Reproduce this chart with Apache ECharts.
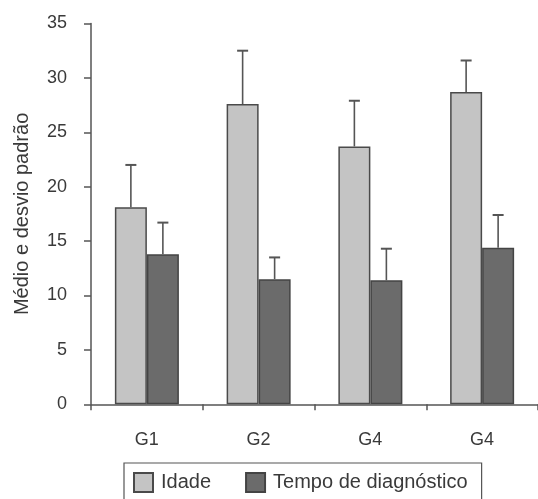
<!DOCTYPE html>
<html>
<head>
<meta charset="utf-8">
<script src="https://cdn.jsdelivr.net/npm/echarts@6/dist/echarts.min.js"></script>
<style>
  html, body { margin: 0; padding: 0; background: #fff; }
  #chart { width: 538px; height: 499px; }
</style>
</head>
<body>
<div id="chart"></div>
<script>
// Group labels on the x axis
const categories = ['G1', 'G2', 'G4', 'G4'];
// Mean age and its standard deviation per group
const idade = [18.1, 27.6, 23.7, 28.7];
const idadeSD = [3.9, 4.9, 4.2, 2.9];
// Mean time to diagnosis and its standard deviation per group
const tempo = [13.8, 11.5, 11.4, 14.4];
const tempoSD = [2.9, 2.0, 2.9, 3.0];
// Y axis range and step
const yMin = 0;
const yMax = 35;
const yStep = 5;
const seriesNames = ['Idade', 'Tempo de diagnóstico'];

const BAR_W = 32;
const CAP_W = 11;
const AXIS_COLOR = '#555';
const TEXT_COLOR = '#3a3a3a';
const FONT = 'Liberation Sans, Arial, sans-serif';

// Upward-only error bar with a cap, placed over the left (-1) or right (+1) bar of a group
function errorBars(means, sds, side) {
  return {
    type: 'custom',
    silent: true,
    z: 5,
    encode: { x: 0, y: [1, 2] },
    data: means.map((m, i) => [i, m, m + sds[i]]),
    renderItem(params, api) {
      const base = api.coord([api.value(0), api.value(1)]);
      const top = api.coord([api.value(0), api.value(2)]);
      const x = base[0] + side * BAR_W / 2;
      return {
        type: 'group',
        children: [
          { type: 'line', shape: { x1: x, y1: base[1], x2: x, y2: top[1] },
            style: { stroke: AXIS_COLOR, lineWidth: 1.6 } },
          { type: 'line', shape: { x1: x - CAP_W / 2, y1: top[1], x2: x + CAP_W / 2, y2: top[1] },
            style: { stroke: AXIS_COLOR, lineWidth: 2 } }
        ]
      };
    }
  };
}

const chart = echarts.init(document.getElementById('chart'), null, { renderer: 'canvas' });

chart.setOption({
  animation: false,
  backgroundColor: '#fff',
  textStyle: { fontFamily: FONT },
  grid: { left: 91, top: 23.5, width: 460, bottom: 94.7, containLabel: false },
  legend: {
    data: seriesNames,
    left: 124,
    top: 463,
    orient: 'horizontal',
    icon: 'rect',
    itemWidth: 19,
    itemHeight: 19,
    itemGap: 34,
    padding: [9, 14, 16, 9],
    borderColor: AXIS_COLOR,
    borderWidth: 1.2,
    textStyle: { fontSize: 20, color: TEXT_COLOR, fontFamily: FONT, padding: [0, 0, 0, 3] }
  },
  xAxis: {
    type: 'category',
    data: categories,
    axisLine: { lineStyle: { color: AXIS_COLOR, width: 1.5 } },
    axisTick: { show: true, length: 6, lineStyle: { color: AXIS_COLOR, width: 1.5 } },
    axisLabel: { fontSize: 18, color: TEXT_COLOR, margin: 27, fontFamily: FONT }
  },
  yAxis: {
    type: 'value',
    min: yMin,
    max: yMax,
    interval: yStep,
    name: 'Médio e desvio padrão',
    nameLocation: 'middle',
    nameGap: 59,
    nameTextStyle: { fontSize: 20, color: TEXT_COLOR, fontFamily: FONT },
    axisLine: { show: true, lineStyle: { color: AXIS_COLOR, width: 1.5 } },
    axisTick: { show: true, length: 7, lineStyle: { color: AXIS_COLOR, width: 1.5 } },
    axisLabel: { fontSize: 18, color: TEXT_COLOR, margin: 24, fontFamily: FONT },
    splitLine: { show: false }
  },
  series: [
    {
      name: seriesNames[0],
      type: 'bar',
      data: idade,
      barWidth: BAR_W,
      barGap: '0%',
      itemStyle: { color: '#c4c4c4', borderColor: '#4a4a4a', borderWidth: 1.5 }
    },
    {
      name: seriesNames[1],
      type: 'bar',
      data: tempo,
      barWidth: BAR_W,
      barGap: '0%',
      itemStyle: { color: '#6b6b6b', borderColor: '#444', borderWidth: 1.5 }
    },
    errorBars(idade, idadeSD, -1),
    errorBars(tempo, tempoSD, 1)
  ]
});
</script>
</body>
</html>
